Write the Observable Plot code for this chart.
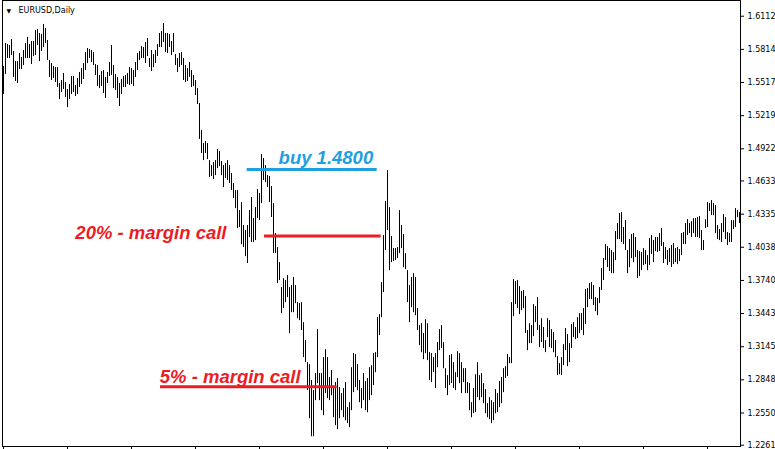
<!DOCTYPE html>
<html><head><meta charset="utf-8">
<script src="https://cdn.jsdelivr.net/npm/d3@7"></script>
<script src="https://cdn.jsdelivr.net/npm/@observablehq/plot@0.6"></script>
<style>html,body{margin:0;padding:0;background:#fff}svg{display:block}</style>
</head><body><div id="chart"></div>
<script>
const symbol = "EURUSD,Daily";

const high = [
1.5660,1.5867,1.5858,1.5849,1.5903,1.5795,1.5705,1.5705,1.5777,1.5741,
1.5804,1.5867,1.5921,1.5858,1.5885,1.5885,1.5984,1.5993,1.5957,1.5948,
1.6038,1.6002,1.5894,1.5714,1.5687,1.5660,1.5651,1.5651,1.5508,1.5535,
1.5598,1.5517,1.5454,1.5499,1.5571,1.5571,1.5490,1.5553,1.5607,1.5642,
1.5687,1.5786,1.5822,1.5813,1.5804,1.5786,1.5678,1.5669,1.5580,1.5615,
1.5624,1.5562,1.5607,1.5696,1.5849,1.5669,1.5589,1.5562,1.5508,1.5544,
1.5571,1.5580,1.5598,1.5651,1.5642,1.5624,1.5696,1.5777,1.5795,1.5840,
1.5831,1.5876,1.5912,1.5732,1.5804,1.5768,1.5804,1.5858,1.5957,1.5975,
1.6046,1.5957,1.5957,1.5948,1.5885,1.5957,1.5768,1.5732,1.5777,1.5786,
1.5732,1.5669,1.5642,1.5696,1.5624,1.5580,1.5535,1.5463,1.5328,1.5086,
1.4969,1.4987,1.4969,1.4816,1.4771,1.4798,1.4816,1.4915,1.4897,1.4807,
1.4771,1.4789,1.4816,1.4771,1.4700,1.4610,1.4547,1.4547,1.4367,1.4439,
1.4233,1.4188,1.4233,1.4367,1.4484,1.4296,1.4394,1.4556,1.4520,1.4870,
1.4834,1.4771,1.4682,1.4673,1.4583,1.4430,1.4161,1.4035,1.3900,1.3676,
1.3756,1.3739,1.3784,1.3676,1.3694,1.3766,1.3694,1.3541,1.3532,1.3541,
1.3361,1.3200,1.3002,1.2984,1.2841,1.2751,1.2904,1.3299,1.2904,1.2904,
1.3047,1.3119,1.3047,1.2868,1.2931,1.2778,1.2823,1.2859,1.2778,1.2724,
1.2769,1.2823,1.2598,1.2643,1.2957,1.3083,1.3074,1.2984,1.2841,1.2769,
1.2904,1.2832,1.2859,1.2957,1.2975,1.3083,1.3092,1.3406,1.3433,1.3721,
1.4143,1.4448,1.4726,1.4394,1.4134,1.4026,1.4026,1.4035,1.4367,1.4233,
1.4152,1.3981,1.3828,1.3694,1.3766,1.3801,1.3766,1.3487,1.3335,1.3352,
1.3263,1.3388,1.3352,1.3092,1.3083,1.3047,1.3083,1.3182,1.3299,1.3335,
1.3182,1.2948,1.2886,1.3065,1.3074,1.3002,1.2912,1.3101,1.3083,1.3002,
1.2948,1.2948,1.2823,1.2814,1.2643,1.2769,1.2894,1.3002,1.2886,1.2904,
1.2814,1.2760,1.2634,1.2688,1.2661,1.2643,1.2760,1.2724,1.2832,1.2868,
1.2948,1.2966,1.3074,1.3047,1.3541,1.3748,1.3730,1.3739,1.3685,1.3640,
1.3649,1.3595,1.3290,1.3352,1.3335,1.3523,1.3505,1.3586,1.3335,1.3397,
1.3317,1.3200,1.3397,1.3379,1.3299,1.3272,1.3200,1.3056,1.2993,1.3047,
1.3164,1.3308,1.3254,1.3173,1.3344,1.3361,1.3317,1.3406,1.3442,1.3442,
1.3487,1.3658,1.3667,1.3712,1.3721,1.3694,1.3586,1.3577,1.3676,1.3846,
1.3936,1.4062,1.4044,1.4026,1.4008,1.3990,1.4179,1.4251,1.4340,1.4349,
1.4215,1.4277,1.4008,1.4107,1.4152,1.4161,1.4125,1.4008,1.3999,1.3990,
1.4026,1.4008,1.3963,1.4116,1.4143,1.4098,1.4125,1.4125,1.4161,1.4206,
1.4080,1.4035,1.4008,1.4026,1.4053,1.4071,1.4026,1.4035,1.4017,1.4161,
1.4170,1.4251,1.4286,1.4251,1.4268,1.4295,1.4295,1.4304,1.4313,1.4188,
1.4098,1.4286,1.4439,1.4430,1.4457,1.4430,1.4412,1.4233,1.4197,1.4251,
1.4331,1.4304,1.4170,1.4161,1.4277,1.4277,1.4385,1.4367,1.4349
];

const low = [
1.5409,1.5589,1.5732,1.5732,1.5759,1.5562,1.5526,1.5508,1.5633,1.5633,
1.5669,1.5732,1.5732,1.5732,1.5678,1.5750,1.5759,1.5849,1.5705,1.5795,
1.5831,1.5867,1.5714,1.5562,1.5535,1.5553,1.5517,1.5472,1.5364,1.5427,
1.5454,1.5382,1.5292,1.5364,1.5409,1.5427,1.5391,1.5409,1.5472,1.5499,
1.5544,1.5624,1.5687,1.5732,1.5696,1.5669,1.5580,1.5481,1.5463,1.5481,
1.5418,1.5373,1.5508,1.5571,1.5580,1.5463,1.5445,1.5373,1.5301,1.5409,
1.5472,1.5472,1.5499,1.5490,1.5499,1.5481,1.5562,1.5624,1.5714,1.5732,
1.5732,1.5687,1.5750,1.5651,1.5615,1.5651,1.5687,1.5750,1.5831,1.5831,
1.5876,1.5786,1.5777,1.5831,1.5759,1.5786,1.5669,1.5606,1.5651,1.5669,
1.5535,1.5517,1.5526,1.5562,1.5472,1.5481,1.5400,1.5319,1.5006,1.4879,
1.4816,1.4879,1.4825,1.4664,1.4673,1.4646,1.4681,1.4744,1.4762,1.4681,
1.4574,1.4655,1.4637,1.4610,1.4547,1.4475,1.4385,1.4206,1.4215,1.4062,
1.4035,1.3954,1.3892,1.4125,1.4081,1.4081,1.4098,1.4296,1.4278,1.4430,
1.4637,1.4619,1.4574,1.4439,1.4305,1.3981,1.3981,1.3712,1.3739,1.3442,
1.3487,1.3541,1.3586,1.3262,1.3451,1.3451,1.3532,1.3397,1.3379,1.3290,
1.3047,1.3002,1.2751,1.2499,1.2337,1.2337,1.2661,1.2814,1.2661,1.2571,
1.2526,1.2724,1.2679,1.2661,1.2706,1.2508,1.2437,1.2401,1.2499,1.2571,
1.2508,1.2481,1.2455,1.2419,1.2571,1.2733,1.2778,1.2751,1.2643,1.2589,
1.2661,1.2571,1.2553,1.2661,1.2706,1.2796,1.2912,1.3047,1.3245,1.3406,
1.3631,1.4008,1.4188,1.3828,1.3900,1.3909,1.3918,1.3936,1.3981,1.4026,
1.3855,1.3837,1.3541,1.3361,1.3496,1.3451,1.3424,1.3290,1.3155,1.3092,
1.3029,1.3083,1.3020,1.2841,1.2823,1.2912,1.2769,1.2957,1.3110,1.3128,
1.2948,1.2769,1.2706,1.2796,1.2814,1.2769,1.2751,1.2868,1.2814,1.2724,
1.2823,1.2724,1.2724,1.2571,1.2508,1.2544,1.2553,1.2688,1.2661,1.2688,
1.2634,1.2544,1.2508,1.2490,1.2454,1.2481,1.2544,1.2553,1.2598,1.2634,
1.2733,1.2859,1.2877,1.2993,1.2993,1.3415,1.3523,1.3487,1.3433,1.3469,
1.3487,1.3263,1.3110,1.3173,1.3173,1.3236,1.3361,1.3290,1.3137,1.3182,
1.3128,1.3092,1.3227,1.3137,1.3128,1.3092,1.3047,1.2886,1.2894,1.2886,
1.2975,1.3110,1.2966,1.3002,1.3128,1.3227,1.3209,1.3218,1.3263,1.3290,
1.3245,1.3344,1.3496,1.3568,1.3568,1.3514,1.3460,1.3424,1.3532,1.3649,
1.3739,1.3918,1.3855,1.3820,1.3801,1.3801,1.3918,1.4107,1.4107,1.4080,
1.4062,1.4008,1.3801,1.3855,1.3936,1.3900,1.3945,1.3757,1.3775,1.3828,
1.3873,1.3882,1.3828,1.3873,1.3972,1.3900,1.3999,1.3990,1.3999,1.4044,
1.3892,1.3927,1.3873,1.3900,1.3855,1.3882,1.3900,1.3882,1.3909,1.3963,
1.4062,1.4062,1.4143,1.4161,1.4125,1.4161,1.4125,1.4125,1.4116,1.4008,
1.4008,1.4206,1.4215,1.4358,1.4322,1.4322,1.4161,1.4107,1.4098,1.4080,
1.4170,1.4107,1.4053,1.4080,1.4080,1.4197,1.4215,1.4304,1.4251
];

const priceTicks = ["1.6112","1.5814","1.5517","1.5219","1.4922","1.4633","1.4335","1.4038","1.3740","1.3443","1.3145","1.2848","1.2550","1.2261"];
const barTicks = [0,32,64,96,128,160,192,224,256,288,320,352];

const levelLabels = ["buy 1.4800","20% - margin call","5% - margin call"];
const levelPrices = [1.4737, 1.4138, 1.2786];
const levelFrom = [121.85, 130.5, 78.5];
const levelTo = [186.85, 188.85, 166.85];

// ---- build ----
const bars = high.map((h, i) => ({i, high: h, low: low[i]}));
const levels = levelLabels.map((label, k) => ({label, price: levelPrices[k], from: levelFrom[k], to: levelTo[k]}));
const BLUE = "#1d9fe0", RED = "#ec1c24";
const textFont = {fontFamily: "Liberation Sans, Arial, sans-serif", fontSize: 18.5, fontWeight: "bold", fontStyle: "italic"};

const chart = Plot.plot({
  width: 775,
  height: 449,
  marginLeft: 2,
  marginRight: 35,
  marginTop: 0,
  marginBottom: 3,
  style: {fontFamily: "DejaVu Sans, Tahoma, sans-serif", fontSize: "8px", color: "#000", background: "#fff", overflow: "visible"},
  x: {domain: [0, 369], range: [3, 741]},
  y: {domain: [1.22494, 1.6253], range: [446, 0]},
  marks: [
    Plot.ruleX(bars, {x: "i", y1: "low", y2: "high", stroke: "#000", strokeWidth: 1}),
    Plot.frame({stroke: "#000"}),
    Plot.axisY({anchor: "right", ticks: priceTicks.map(Number), tickFormat: d => d.toFixed(4), tickSize: 3, tickPadding: 4, label: null, fill: "#000"}),
    Plot.axisX({anchor: "bottom", ticks: barTicks, tickSize: 3, tickFormat: () => "", label: null}),
    Plot.ruleY([levels[0]], {y: "price", x1: "from", x2: "to", stroke: BLUE, strokeWidth: 3}),
    Plot.ruleY(levels.slice(1), {y: "price", x1: "from", x2: "to", stroke: RED, strokeWidth: 3}),
    Plot.text([levels[0]], {x: "to", y: "price", text: "label", textAnchor: "end", dx: -4, dy: -11.6, fill: BLUE, ...textFont}),
    Plot.text([levels[1]], {x: "from", y: "price", text: "label", textAnchor: "end", dx: -38, dy: -2.8, fill: RED, ...textFont}),
    Plot.text([levels[2]], {x: "from", y: "price", text: "label", textAnchor: "start", dx: -0.7, dy: -9.8, fill: RED, ...textFont}),
    Plot.text([symbol], {frameAnchor: "top-left", dx: 16, dy: 7, fontSize: 8, fill: "#000"}),
    Plot.text(["\u25BC"], {frameAnchor: "top-left", dx: 4, dy: 8, fontSize: 6, fill: "#000"})
  ]
});
document.getElementById("chart").appendChild(chart);
</script>
</body></html>
